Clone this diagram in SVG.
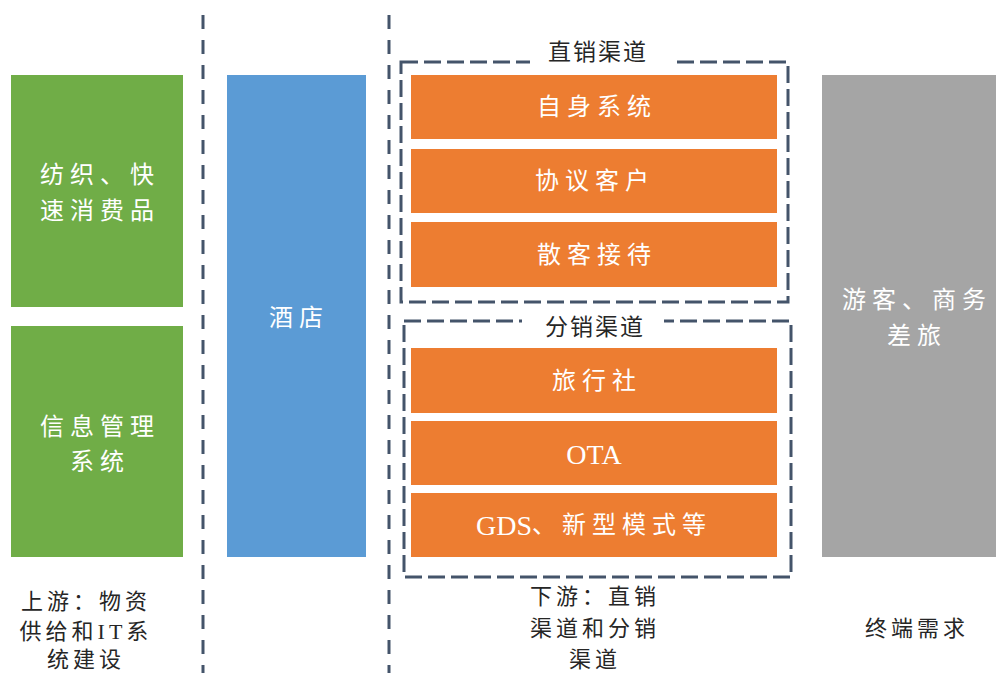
<svg xmlns="http://www.w3.org/2000/svg" width="996" height="673" viewBox="0 0 996 673">
<style>
.cjk{font-family:"Liberation Serif","Noto Sans CJK SC",serif;}
.w{fill:#ffffff;font-size:24px;letter-spacing:6px;text-anchor:middle;dominant-baseline:central;}
.k{fill:#262626;font-size:22px;letter-spacing:4px;text-anchor:middle;dominant-baseline:central;}
.t{fill:#262626;font-size:23px;letter-spacing:2px;text-anchor:middle;dominant-baseline:central;}
.div{stroke:#44546A;stroke-width:3;stroke-dasharray:14 11;fill:none;}
.box{stroke:#44546A;stroke-width:3;stroke-dasharray:17 6;fill:none;}
.g{fill:#70AD47;}
.b{fill:#5B9BD5;}
.o{fill:#ED7D31;}
.gr{fill:#A5A5A5;}
</style>
<rect width="996" height="673" fill="#ffffff"/>
<g id="dividers">
<line class="div" x1="203" y1="15" x2="203" y2="673"/>
<line class="div" x1="389" y1="15" x2="389" y2="673"/>
</g>
<g id="upstream-textile">
<rect class="g" x="11" y="75" width="172" height="232"/>
<text class="cjk w" x="100" y="175">纺织、快</text>
<text class="cjk w" x="100" y="211">速消费品</text>
</g>
<g id="upstream-it">
<rect class="g" x="11" y="326" width="172" height="231"/>
<text class="cjk w" x="100" y="427">信息管理</text>
<text class="cjk w" x="100" y="462">系统</text>
</g>
<g id="upstream-label">
<text class="cjk k" x="86" y="601">上游：物资</text>
<text class="cjk k" x="86" y="631">供给和IT系</text>
<text class="cjk k" x="86" y="659">统建设</text>
</g>
<g id="hotel">
<rect class="b" x="227" y="75" width="139" height="482"/>
<text class="cjk w" x="299" y="318">酒店</text>
</g>
<g id="direct-channel">
<rect class="box" x="401" y="62" width="387" height="240"/>
<rect x="530" y="44" width="144" height="30" fill="#ffffff"/>
<text class="cjk t" x="598" y="52">直销渠道</text>
</g>
<g id="own-system">
<rect class="o" x="411" y="75" width="366" height="64"/>
<text class="cjk w" x="597" y="107">自身系统</text>
</g>
<g id="agreement-customer">
<rect class="o" x="411" y="149" width="366" height="64"/>
<text class="cjk w" x="595" y="181">协议客户</text>
</g>
<g id="walk-in">
<rect class="o" x="411" y="222" width="366" height="65"/>
<text class="cjk w" x="597" y="255">散客接待</text>
</g>
<g id="distribution-channel">
<rect class="box" x="404" y="321" width="387" height="256"/>
<rect x="522" y="310" width="142" height="30" fill="#ffffff"/>
<text class="cjk t" x="595" y="327">分销渠道</text>
</g>
<g id="travel-agency">
<rect class="o" x="411" y="348" width="366" height="65"/>
<text class="cjk w" x="597" y="381">旅行社</text>
</g>
<g id="ota">
<rect class="o" x="411" y="421" width="366" height="64"/>
<text class="cjk" x="594" y="454" fill="#ffffff" font-size="28" text-anchor="middle" dominant-baseline="central">OTA</text>
</g>
<g id="gds">
<rect class="o" x="411" y="493" width="366" height="64"/>
<text class="cjk" x="594" y="525" fill="#ffffff" font-size="28" text-anchor="middle" dominant-baseline="central">GDS<tspan font-size="24" letter-spacing="6">、新型模式等</tspan></text>
</g>
<g id="downstream-label">
<text class="cjk k" x="595" y="596">下游：直销</text>
<text class="cjk k" x="595" y="628">渠道和分销</text>
<text class="cjk k" x="595" y="659">渠道</text>
</g>
<g id="end-demand">
<rect class="gr" x="822" y="75" width="180" height="482"/>
<text class="cjk w" x="917" y="300">游客、商务</text>
<text class="cjk w" x="917" y="336">差旅</text>
</g>
<g id="end-label">
<text class="cjk k" x="917" y="628">终端需求</text>
</g>
</svg>
